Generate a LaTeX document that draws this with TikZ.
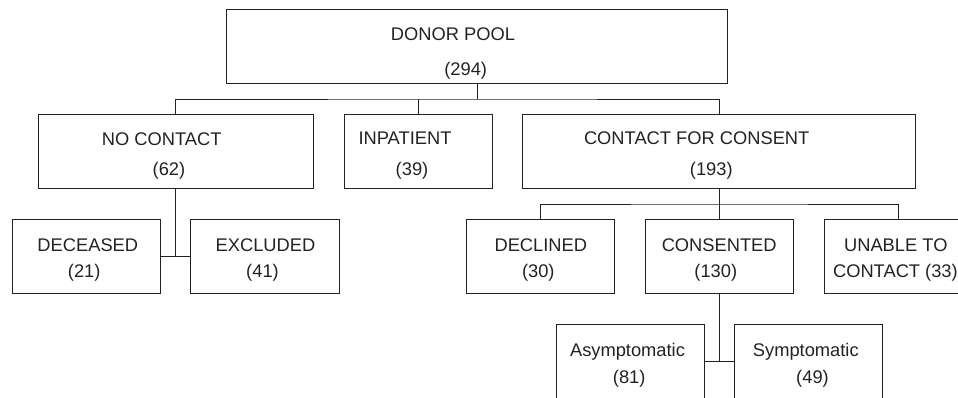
\documentclass[tikz,border=0pt]{standalone}
\usepackage{fontspec}
\setmainfont{Liberation Sans}
\definecolor{ink}{HTML}{222222}
\begin{document}
\begin{tikzpicture}[x=1pt,y=-1pt,
  box/.style={draw=ink,line width=1pt,rectangle,inner sep=0pt,minimum height=73.6pt},
  lbl/.style={anchor=base,inner sep=0pt,text=ink,font=\fontsize{18.3}{22}\selectfont},
  conn/.style={draw=ink,line width=1pt}]
\clip (0,0) rectangle (958,397);
\useasboundingbox (0,0) rectangle (958,397);
% boxes
\node[box,minimum width=501pt] (dp) at (477.2,46.5) {};
\node[box,minimum width=275.3pt] (nc) at (175.7,151.5) {};
\node[box,minimum width=148.3pt] (inp) at (418.2,151.5) {};
\node[box,minimum width=393.3pt] (cfc) at (719.3,151.5) {};
\node[box,minimum width=148pt,minimum height=74pt] (dec) at (86.3,256.3) {};
\node[box,minimum width=148.6pt,minimum height=74pt] (exc) at (265,256.3) {};
\node[box,minimum width=148pt,minimum height=74pt] (dcl) at (540.7,256.3) {};
\node[box,minimum width=148pt,minimum height=74pt] (con) at (719.3,256.3) {};
\node[box,minimum width=148pt,minimum height=74pt] (utc) at (898,256.3) {};
\node[box,minimum width=147.6pt,minimum height=74pt] (asy) at (630.5,361.3) {};
\node[box,minimum width=148.4pt,minimum height=74pt] (sym) at (808.5,361.3) {};
% labels
\node[lbl] (dp1) at (453,40) {DONOR POOL};
\node[lbl] (dp2) at (465.7,75) {(294)};
\node[lbl] (nc1) at (161.7,145) {NO CONTACT};
\node[lbl] (nc2) at (169,175) {(62)};
\node[lbl] (inp1) at (405,144.5) {INPATIENT};
\node[lbl] (inp2) at (412,175) {(39)};
\node[lbl] (cfc1) at (696.7,144.5) {CONTACT FOR CONSENT};
\node[lbl] (cfc2) at (711.3,175) {(193)};
\node[lbl] (dec1) at (87.8,251.7) {DECEASED};
\node[lbl] (dec2) at (84.2,277) {(21)};
\node[lbl] (exc1) at (265.5,251.7) {EXCLUDED};
\node[lbl] (exc2) at (262.5,277) {(41)};
\node[lbl] (dcl1) at (540.8,251.7) {DECLINED};
\node[lbl] (dcl2) at (538.3,277) {(30)};
\node[lbl] (con1) at (719.2,251.7) {CONSENTED};
\node[lbl] (con2) at (715.8,277) {(130)};
\node[lbl] (utc1) at (895.8,251.7) {UNABLE TO};
\node[lbl] (utc2) at (895.4,277) {CONTACT (33)};
\node[lbl] (asy1) at (627.5,356.7) {Asymptomatic};
\node[lbl] (asy2) at (629.2,383) {(81)};
\node[lbl] (sym1) at (805.8,356.7) {Symptomatic};
\node[lbl] (sym2) at (812.5,383) {(49)};
% connectors
\coordinate (j1) at (477.2,99);
\coordinate (j2) at (719.3,204);
\draw[conn] (dp.south) -- (j1);
\draw[conn] (nc.north) |- (j1) -| (cfc.north);
\draw[conn] (inp.north) -- (inp.north |- j1);
\draw[conn] (nc.south) -- (nc.south |- dec.east);
\draw[conn] (dec.east) -- (exc.west);
\draw[conn] (cfc.south) -- (j2);
\draw[conn] (dcl.north) |- (j2) -| (utc.north);
\draw[conn] (con.north) -- (j2);
\draw[conn] (con.south) -- (con.south |- asy.east);
\draw[conn] (asy.east) -- (sym.west);
\end{tikzpicture}
\end{document}
